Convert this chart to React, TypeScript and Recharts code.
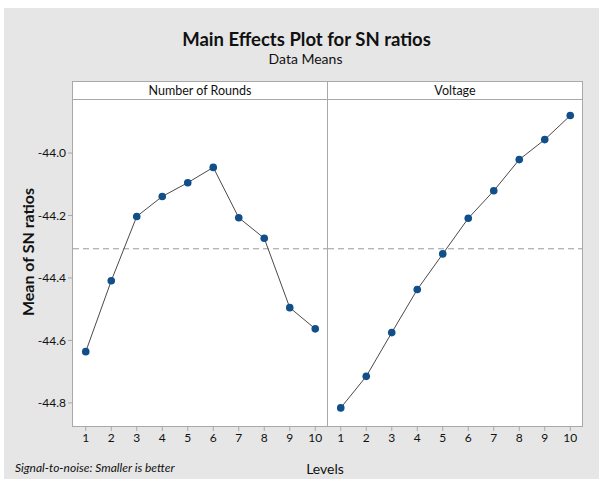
import { LineChart, Line, XAxis, YAxis, ReferenceLine } from 'recharts';

// Levels 1..10 shared by both factors
const levels = [1, 2, 3, 4, 5, 6, 7, 8, 9, 10];
const roundsSN = [-44.636, -44.409, -44.203, -44.139, -44.095, -44.046, -44.207, -44.273, -44.495, -44.563];
const voltageSN = [-44.816, -44.715, -44.575, -44.437, -44.323, -44.209, -44.121, -44.021, -43.957, -43.880];
const yTicks = [-44.0, -44.2, -44.4, -44.6, -44.8];
const panelTitles = ['Number of Rounds', 'Voltage'];

const roundsData = levels.map((lv, i) => ({ level: lv, sn: roundsSN[i] }));
const voltageData = levels.map((lv, i) => ({ level: lv, sn: voltageSN[i] }));
const grandMean = roundsSN.reduce((a, b) => a + b, 0) / roundsSN.length;

const FONT = 'Lato, "Open Sans", sans-serif';
const BG = '#e6e6e6';
const FRAME = '#a8a8a8';
const MARKER = '#114f8a';
const yDomain = [-44.874, -43.827];

const tickStyle = { fontSize: 12, fill: '#111', fontFamily: FONT };

const Panel = ({ data, showY }: { data: { level: number; sn: number }[]; showY: boolean }) => (
    <LineChart
        width={showY ? 328 : 255}
        height={357}
        data={data}
        margin={{ top: 0, right: 0, bottom: 0, left: 0 }}
    >
        <XAxis
            dataKey="level"
            type="number"
            domain={[0.5, 10.5]}
            ticks={levels}
            height={30}
            axisLine={false}
            tickLine={{ stroke: FRAME }}
            tickSize={5}
            tick={tickStyle}
            interval={0}
        />
        <YAxis
            type="number"
            domain={yDomain}
            ticks={yTicks}
            width={showY ? 73 : 0}
            hide={!showY}
            axisLine={false}
            tickLine={{ stroke: FRAME }}
            tickSize={5}
            tick={tickStyle}
            tickFormatter={(v: number) => v.toFixed(1)}
        />
        <ReferenceLine y={grandMean} stroke="#9a9a9a" strokeDasharray="6 4" />
        <Line
            type="linear"
            dataKey="sn"
            stroke="#4a4a4a"
            strokeWidth={1}
            dot={{ r: 3.8, fill: MARKER, stroke: MARKER, strokeWidth: 0 }}
            isAnimationActive={false}
        />
    </LineChart>
);

export default function App() {
    return (
        <div style={{ position: 'absolute', left: 0, top: 0, width: 599, height: 479, background: '#fff', fontFamily: FONT }}>
            <div style={{ position: 'absolute', left: 4, top: 8, width: 595, height: 471, background: BG }} />
            <div style={{ position: 'absolute', left: 0, top: 28, width: 613, textAlign: 'center', fontSize: 18.5, fontWeight: 700, color: '#111' }}>
                Main Effects Plot for SN ratios
            </div>
            <div style={{ position: 'absolute', left: 0, top: 50, width: 611, textAlign: 'center', fontSize: 14, color: '#111' }}>
                Data Means
            </div>

            {/* plot area background */}
            <div style={{ position: 'absolute', left: 73, top: 100, width: 509, height: 326, background: '#fff' }} />

            <div style={{ position: 'absolute', left: 0, top: 99 }}>
                <Panel data={roundsData} showY />
            </div>
            <div style={{ position: 'absolute', left: 328, top: 99 }}>
                <Panel data={voltageData} showY={false} />
            </div>

            {/* panel strips */}
            <div style={{ position: 'absolute', boxSizing: 'border-box', left: 72, top: 81, width: 511, height: 19, background: '#fff', border: `1px solid ${FRAME}` }} />
            <div style={{ position: 'absolute', left: 73, top: 82, width: 254, height: 17, fontSize: 12.5, textAlign: 'center', lineHeight: '17px', color: '#111' }}>
                {panelTitles[0]}
            </div>
            <div style={{ position: 'absolute', left: 328, top: 82, width: 254, height: 17, fontSize: 12.5, textAlign: 'center', lineHeight: '17px', color: '#111' }}>
                {panelTitles[1]}
            </div>

            {/* frame and panel divider */}
            <div style={{ position: 'absolute', boxSizing: 'border-box', left: 72, top: 99, width: 511, height: 328, border: `1px solid ${FRAME}`, borderTop: 'none', pointerEvents: 'none' }} />
            <div style={{ position: 'absolute', left: 327, top: 81, width: 1, height: 345, background: FRAME, pointerEvents: 'none' }} />

            <div style={{ position: 'absolute', left: 27, top: 252, transform: 'translate(-50%, -50%) rotate(-90deg)', whiteSpace: 'nowrap', fontSize: 16, fontWeight: 700, color: '#111' }}>
                Mean of SN ratios
            </div>
            <div style={{ position: 'absolute', left: 325, top: 468, transform: 'translate(-50%, -50%)', fontSize: 14, color: '#111' }}>
                Levels
            </div>
            <div style={{ position: 'absolute', left: 15, top: 467, transform: 'translateY(-50%)', fontSize: 12, fontStyle: 'italic', color: '#111', whiteSpace: 'nowrap' }}>
                Signal-to-noise: Smaller is better
            </div>
        </div>
    );
}
